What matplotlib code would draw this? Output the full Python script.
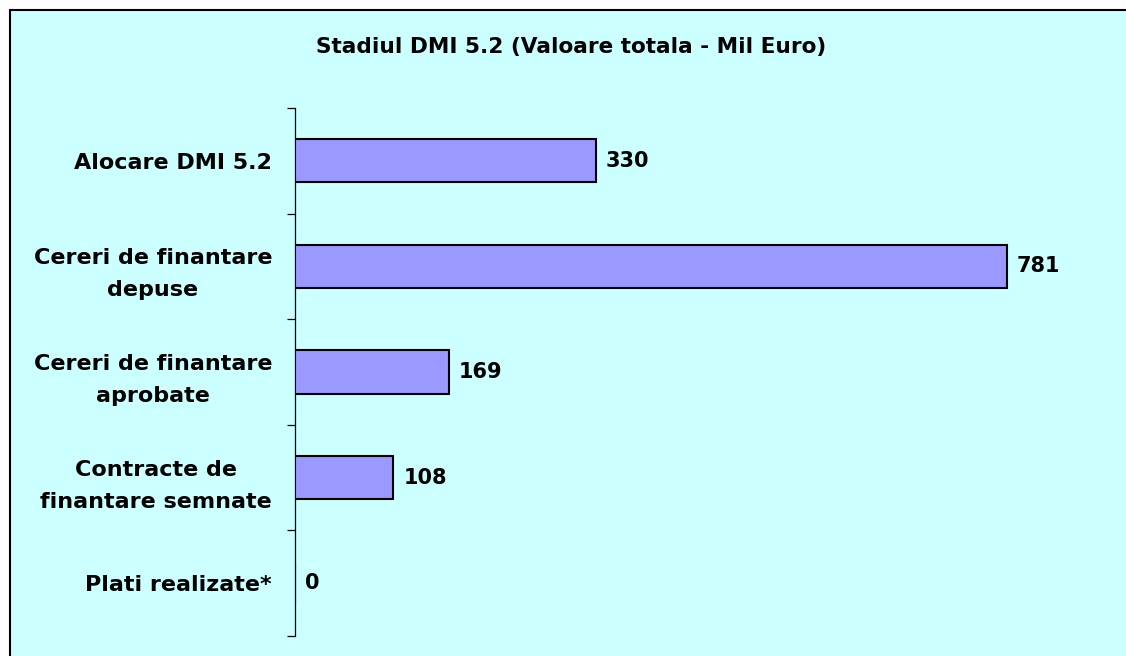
import matplotlib
matplotlib.use("Agg")
import matplotlib.pyplot as plt
from matplotlib.patches import Rectangle

categories = ["Alocare DMI 5.2", "Cereri de finantare\ndepuse",
              "Cereri de finantare\naprobate", "Contracte de\nfinantare semnate",
              "Plati realizate*"]
values = [330, 781, 169, 108, 0]
title = "Stadiul DMI 5.2 (Valoare totala - Mil Euro)"

W, H = 1126, 656
plt.rcParams['font.family'] = ['DejaVu Sans']
plt.rcParams['font.weight'] = 'bold'

fig = plt.figure(figsize=(W / 100, H / 100), dpi=100)
fig.patch.set_facecolor('white')

# cyan panel with border, running off the right and bottom edges
panel = Rectangle((10 / W, -0.1), 1.2, 1 - 10 / H + 0.1, transform=fig.transFigure,
                  facecolor='#CCFFFF', edgecolor='black', linewidth=1.5, zorder=0)
fig.add_artist(panel)

ax = fig.add_axes([295 / W, 1 - 636 / H, (1115 - 295) / W, (636 - 108) / H])
ax.set_facecolor('none')

y = list(range(len(categories)))
ax.barh(y, values, height=0.41, color='#9999FF', edgecolor='black', linewidth=1.5, zorder=3)

ax.set_xlim(0, 900)
ax.set_ylim(len(categories) - 0.5, -0.5)

for s in ['top', 'right', 'bottom']:
    ax.spines[s].set_visible(False)
ax.spines['left'].set_linewidth(0.9)
ax.set_xticks([])

ax.set_yticks(y)
ax.set_yticklabels(categories, fontsize=16, fontweight='bold', multialignment='center',
                   linespacing=1.75)
ax.tick_params(axis='y', which='major', length=0, pad=16.5)
ax.set_yticks([i - 0.5 for i in range(len(categories) + 1)], minor=True)
ax.tick_params(axis='y', which='minor', length=6, width=0.9, direction='out')

for yi, v in zip(y, values):
    ax.text(v + 11, yi, str(v), va='center', ha='left', fontsize=15, fontweight='bold')

fig.text(571 / W, 1 - 47 / H, title, ha='center', va='center', fontsize=15.6, fontweight='bold')

fig.savefig("out.png", dpi=100)
